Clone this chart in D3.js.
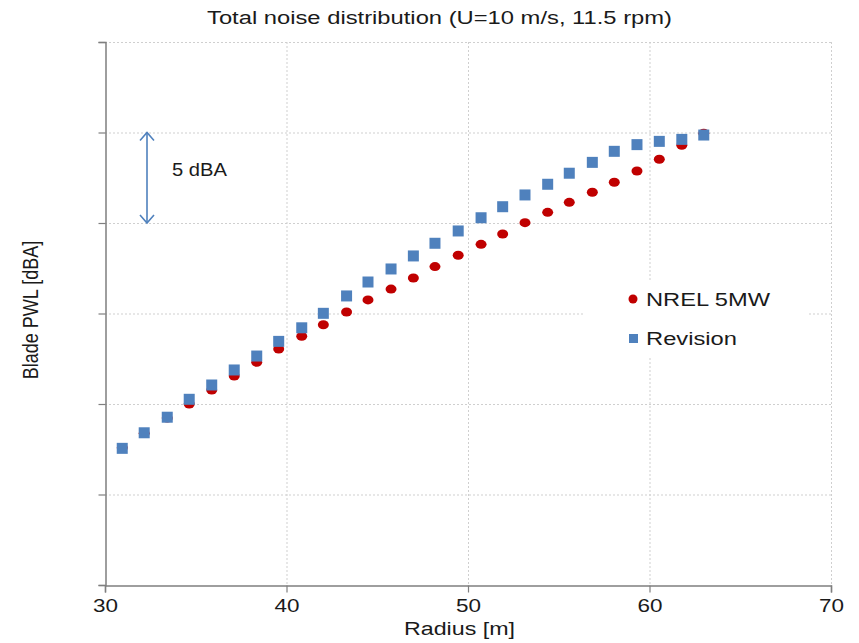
<!DOCTYPE html>
<html>
<head>
<meta charset="utf-8">
<script src="https://cdn.jsdelivr.net/npm/d3@7/dist/d3.min.js"></script>
<style>
  html, body { margin: 0; padding: 0; background: #fff; }
  svg { display: block; }
  text { font-family: "Liberation Sans", Arial, sans-serif; fill: #1a1a1a; }
</style>
</head>
<body>
<svg id="chart" width="859" height="643"></svg>
<script>
// Blade element radii [m]
const radius = [30.95, 32.16, 33.43, 34.64, 35.88, 37.12, 38.36, 39.57, 40.84, 42.03,
  43.31, 44.49, 45.76, 46.99, 48.18, 49.46, 50.72, 51.91, 53.14, 54.39,
  55.58, 56.85, 58.06, 59.31, 60.54, 61.78, 62.99];

// Relative blade PWL [dBA] per element
const nrel5mw = [7.58, 8.38, 9.22, 10.0, 10.77, 11.55, 12.30, 13.04, 13.74, 14.38,
  15.08, 15.75, 16.35, 16.96, 17.59, 18.22, 18.82, 19.39, 20.02, 20.59,
  21.14, 21.70, 22.25, 22.87, 23.52, 24.29, 24.96];
const revision = [7.55, 8.41, 9.27, 10.26, 11.05, 11.88, 12.65, 13.46, 14.21, 15.01,
  15.97, 16.74, 17.46, 18.18, 18.88, 19.56, 20.29, 20.90, 21.55, 22.14,
  22.75, 23.35, 23.96, 24.33, 24.51, 24.62, 24.86];

const xTicks = [30, 40, 50, 60, 70];
const yTicks = [0, 5, 10, 15, 20, 25, 30];

const seriesNames = ["NREL 5MW", "Revision"];
const colors = { "NREL 5MW": "#c00000", "Revision": "#4f81bd" };

const svg = d3.select("#chart");
const plot = { left: 105, right: 831, top: 42, bottom: 585 };

const x = d3.scaleLinear().domain([30, 70]).range([plot.left, plot.right]);
const y = d3.scaleLinear().domain([0, 30]).range([plot.bottom, plot.top]);

// Horizontal text is drawn slightly wide; textLength sets the run width
function wide(sel, len) {
  return sel.attr("textLength", len).attr("lengthAdjust", "spacingAndGlyphs");
}

// Gridlines
const grid = svg.append("g").attr("stroke", "#cfcfcf").attr("stroke-dasharray", "2,2").attr("stroke-width", 1);
grid.selectAll("line.v").data(xTicks.slice(1)).join("line")
  .attr("x1", d => x(d) + 0.5).attr("x2", d => x(d) + 0.5)
  .attr("y1", plot.top).attr("y2", plot.bottom);
grid.selectAll("line.h").data(yTicks.slice(1)).join("line")
  .attr("x1", plot.left).attr("x2", plot.right)
  .attr("y1", d => y(d) + 0.5).attr("y2", d => y(d) + 0.5);

// Legend backdrop hides the gridlines behind it
svg.append("rect").attr("x", 583).attr("y", 280).attr("width", 224).attr("height", 77).attr("fill", "#fff");

// Axes
const xAxis = svg.append("g").attr("transform", `translate(0,${plot.bottom + 0.5})`)
  .call(d3.axisBottom(x).tickValues(xTicks).tickSize(7).tickPadding(7).tickFormat(d3.format("d")));
const yAxis = svg.append("g").attr("transform", `translate(${plot.left + 0.5},0)`)
  .call(d3.axisLeft(y).tickValues(yTicks).tickSize(7).tickFormat(""));
[xAxis, yAxis].forEach(a => {
  a.select(".domain").attr("stroke", "#7f7f7f").attr("stroke-width", 1.5);
  a.selectAll(".tick line").attr("stroke", "#7f7f7f").attr("stroke-width", 1.2);
});
wide(xAxis.selectAll(".tick text"), 25)
  .attr("font-size", 18).attr("font-family", "Liberation Sans, Arial, sans-serif").attr("fill", "#1a1a1a");

// Points: NREL dots first, Revision squares over them
const pts = svg.append("g");
pts.selectAll("ellipse").data(radius).join("ellipse")
  .attr("cx", d => x(d)).attr("cy", (d, i) => y(nrel5mw[i]))
  .attr("rx", 5.5).attr("ry", 4.5).attr("fill", colors["NREL 5MW"]);
pts.selectAll("rect").data(radius).join("rect")
  .attr("x", d => x(d) - 5.5).attr("y", (d, i) => y(revision[i]) - 5.5)
  .attr("width", 11).attr("height", 11).attr("fill", colors["Revision"]);

// 5 dBA scale arrow
const ax = 147;
const arrow = svg.append("g").attr("stroke", "#4f81bd").attr("stroke-width", 1.6).attr("fill", "none");
arrow.append("line").attr("x1", ax).attr("x2", ax).attr("y1", y(25)).attr("y2", y(20));
arrow.append("path").attr("d", `M${ax - 7},${y(25) + 8} L${ax},${y(25)} L${ax + 7},${y(25) + 8}`);
arrow.append("path").attr("d", `M${ax - 7},${y(20) - 8} L${ax},${y(20)} L${ax + 7},${y(20) - 8}`);
wide(svg.append("text").attr("x", 172).attr("y", 176)
  .attr("font-family", "Lato, 'Open Sans', sans-serif").attr("font-size", 18).text("5 dBA"), 55);

// Title and axis labels
wide(svg.append("text").attr("x", 439.5).attr("y", 24).attr("text-anchor", "middle")
  .attr("font-size", 18).text("Total noise distribution (U=10 m/s, 11.5 rpm)"), 465);
wide(svg.append("text").attr("x", 459.5).attr("y", 635).attr("text-anchor", "middle")
  .attr("font-size", 18).text("Radius [m]"), 111);
svg.append("text").attr("transform", "translate(38,310) scale(1.25,1) rotate(-90)").attr("text-anchor", "middle")
  .attr("font-size", 18).text("Blade PWL [dBA]");

// Legend
const leg = svg.append("g");
leg.append("circle").attr("cx", 633).attr("cy", 299).attr("r", 4.5).attr("fill", colors["NREL 5MW"]);
leg.append("rect").attr("x", 629).attr("y", 334).attr("width", 9).attr("height", 9).attr("fill", colors["Revision"]);
wide(leg.append("text").attr("x", 646).attr("y", 306).attr("font-size", 18).text(seriesNames[0]), 124);
wide(leg.append("text").attr("x", 646).attr("y", 345).attr("font-size", 18).text(seriesNames[1]), 91);
</script>
</body>
</html>
